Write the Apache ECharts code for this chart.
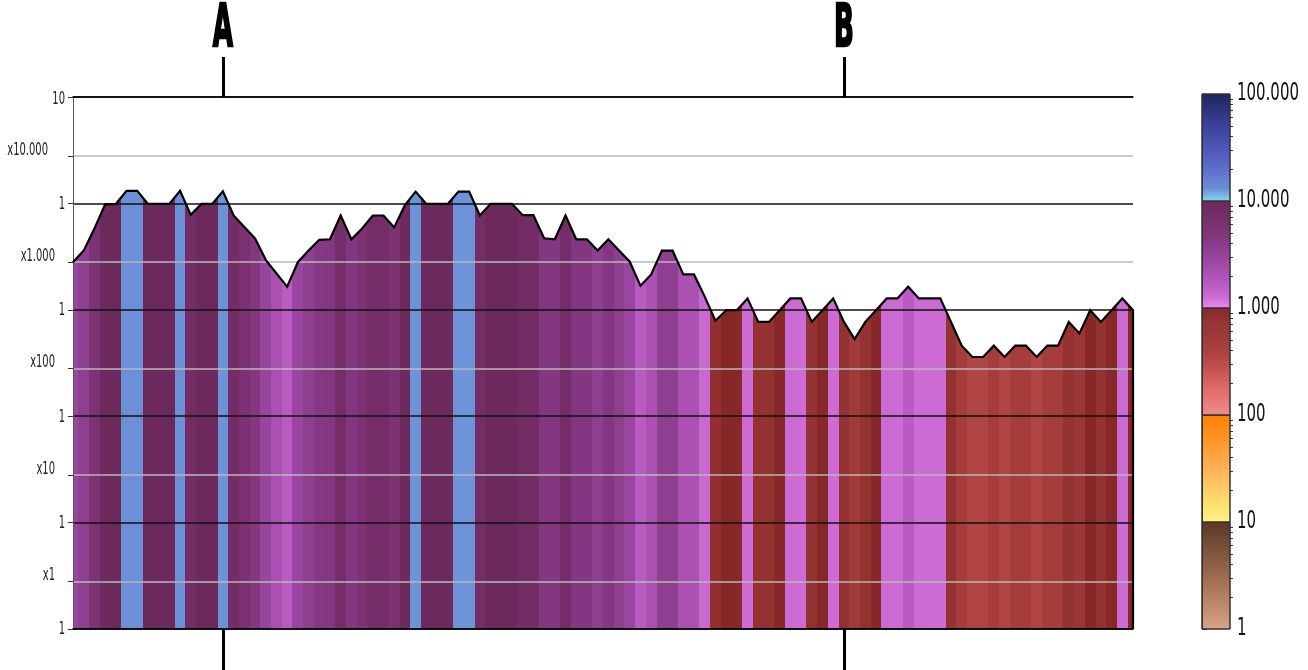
<!DOCTYPE html>
<html>
<head>
<meta charset="utf-8">
<script src="https://cdn.jsdelivr.net/npm/echarts@6/dist/echarts.min.js"></script>
<style>
  html, body { margin: 0; padding: 0; background: #ffffff; }
  #chart { width: 1308px; height: 670px; }
</style>
</head>
<body>
<div id="chart"></div>
<script>
// Measured value per position (log scale, 1 … 100.000)
const values = [
  2800, 3600, 5800, 9800, 9900, 13100, 13100, 9900, 9900, 9900,
  13100, 7800, 9900, 9900, 13000, 7700, 6000, 4700, 2950, 2200,
  1650, 2800, 3600, 4550, 4600, 7700, 4600, 5800, 7700, 7700,
  5950, 9650, 12900, 9900, 9900, 9900, 12900, 12900, 7700, 9900,
  9900, 9900, 7750, 7750, 4700, 4600, 7700, 4600, 4600, 3600,
  4600, 3600, 2830, 1680, 2150, 3600, 3600, 2150, 2150, 1330,
  790, 990, 990, 1280, 770, 770, 990, 1280, 1280, 770,
  990, 1280, 770, 530, 770, 990, 1280, 1280, 1650, 1280,
  1280, 1280, 770, 460, 360, 360, 460, 360, 460, 460,
  360, 460, 460, 770, 600, 990, 770, 990, 1280, 990
];

// Marked positions along the profile
const markerIndex = [14, 72];
const markerNames = ['A', 'B'];

// Left axis: decade labels (1, 10, … 100.000) and the band names between them
const decadeLabels = ['1', '1', '1', '1', '1', '10'];
const bandLabels = ['x1', 'x10', 'x100', 'x1.000', 'x10.000'];
const bandGuides = [2.8, 28, 280, 2800, 28000];

// Colour scale ticks
const scaleTicks = [1, 10, 100, 1000, 10000, 100000];
const scaleLabels = ['1', '10', '100', '1.000', '10.000', '100.000'];

// One gradient per decade, bottom (0) to top (1)
const palette = [
  [[0, '#d9a386'], [0.5, '#9c6a4e'], [1, '#583826']],
  [[0, '#fff47e'], [0.25, '#ffd46c'], [0.55, '#ffaa50'], [0.8, '#ff9222'], [1, '#ff8000']],
  [[0, '#f08c8c'], [0.25, '#e06a6a'], [0.45, '#c24e4e'], [0.6, '#aa4040'], [0.85, '#983434'], [1, '#862828']],
  [[0, '#ec8aec'], [0.1, '#cc6cd4'], [0.22, '#ba5bc4'], [0.45, '#9a46a0'], [0.65, '#843882'], [0.82, '#782f6c'], [1, '#6c2a5c']],
  [[0, '#80dcef'], [0.12, '#6b8ed6'], [0.4, '#5660c4'], [0.7, '#3c4299'], [1, '#1f2460']]
];

// Narrow lettering: condensed face, squeezed horizontally
const LABEL_FONT = "'DejaVu Sans Condensed', 'DejaVu Sans', sans-serif";

function hexRgb(h) {
  return [parseInt(h.slice(1, 3), 16), parseInt(h.slice(3, 5), 16), parseInt(h.slice(5, 7), 16)];
}
function mix(a, b, f) {
  const ca = hexRgb(a), cb = hexRgb(b);
  const c = ca.map((x, k) => Math.round(x + (cb[k] - x) * f));
  return 'rgb(' + c.join(',') + ')';
}
function colorFor(v) {
  const L = Math.log10(v);
  const d = Math.min(4, Math.max(0, Math.floor(L)));
  const t = L - d;
  const stops = palette[d];
  for (let k = 1; k < stops.length; k++) {
    if (t <= stops[k][0]) {
      const a = stops[k - 1], b = stops[k];
      return mix(a[1], b[1], (t - a[0]) / (b[0] - a[0]));
    }
  }
  return stops[stops.length - 1][1];
}

const n = values.length;
const points = values.map((v, i) => [i, v]);

// Hard-edged vertical stripes, one per position, coloured by its value
const stripeStops = [];
values.forEach((v, i) => {
  const c = colorFor(v);
  stripeStops.push({ offset: Math.max(0, (i - 0.5) / (n - 1)), color: c });
  stripeStops.push({ offset: Math.min(1, (i + 0.5) / (n - 1)), color: c });
});

// Outline closes down the right edge to the axis minimum
const outline = points.concat([[n - 1, scaleTicks[0]]]);

const minorTicks = [];
for (let d = 0; d < 5; d++) {
  for (let k = 2; k <= 9; k++) minorTicks.push(d + Math.log10(k));
}

const chart = echarts.init(document.getElementById('chart'), null, { renderer: 'canvas' });

const option = {
  animation: false,
  backgroundColor: '#ffffff',
  grid: [
    { left: 73, right: 175, top: 97, bottom: 41, outerBoundsMode: 'none', containLabel: false },
    { left: 1202, width: 28, top: 94, bottom: 41, outerBoundsMode: 'none', containLabel: false }
  ],
  xAxis: [
    {
      gridIndex: 0, type: 'value', min: 0, max: n - 1, position: 'bottom', z: 5,
      axisLine: { show: true, lineStyle: { color: '#000', width: 1.5 } },
      axisTick: { show: true, customValues: markerIndex, length: 41, lineStyle: { color: '#000', width: 3 } },
      axisLabel: { show: false },
      splitLine: { show: false }
    },
    {
      gridIndex: 0, type: 'value', min: 0, max: n - 1, position: 'top', z: 5,
      axisLine: { show: true, lineStyle: { color: '#000', width: 1.5 } },
      axisTick: { show: true, customValues: markerIndex, length: 40, lineStyle: { color: '#000', width: 3 } },
      axisLabel: { show: false },
      splitLine: { show: false }
    },
    { gridIndex: 1, type: 'value', min: 0, max: 1, show: false }
  ],
  yAxis: [
    {
      gridIndex: 0, type: 'log', logBase: 10, min: scaleTicks[0], max: scaleTicks[5], position: 'left', z: 4,
      axisLine: { show: true, lineStyle: { color: '#555', width: 1 } },
      axisTick: { show: true, length: 5, lineStyle: { color: '#333', width: 1 } },
      axisLabel: { show: false },
      splitLine: { show: true, lineStyle: { color: '#111', width: 1.5 } }
    },
    {
      gridIndex: 0, type: 'value', min: 0, max: 5, position: 'left', z: 4,
      axisLine: { show: false },
      axisTick: { show: true, customValues: bandGuides.map(g => Math.log10(g)), length: 5, lineStyle: { color: '#333', width: 1 } },
      axisLabel: { show: false },
      splitLine: { show: true, lineStyle: { color: '#b8b8b8', width: 1.5 } }
    },
    {
      gridIndex: 1, type: 'log', logBase: 10, min: scaleTicks[0], max: scaleTicks[5], position: 'right', z: 4,
      axisLine: { show: true, lineStyle: { color: '#333', width: 1 } },
      axisTick: { show: true, length: 5, lineStyle: { color: '#333', width: 1 } },
      axisLabel: { show: false },
      splitLine: { show: false }
    },
    {
      gridIndex: 1, type: 'value', min: 0, max: 5, position: 'right', z: 4,
      axisLine: { show: false },
      axisTick: { show: true, customValues: minorTicks, length: 3, lineStyle: { color: '#333', width: 1 } },
      axisLabel: { show: false },
      splitLine: { show: false }
    }
  ],
  series: [
    {
      name: 'profile', type: 'line', xAxisIndex: 0, yAxisIndex: 0, data: points,
      symbol: 'none', silent: true, z: 2,
      lineStyle: { width: 0 },
      areaStyle: { origin: 'start', opacity: 1, color: new echarts.graphic.LinearGradient(0, 0, 1, 0, stripeStops) }
    },
    {
      name: 'outline', type: 'line', xAxisIndex: 0, yAxisIndex: 0, data: outline,
      symbol: 'none', silent: true, z: 6,
      lineStyle: { color: '#000', width: 2.2, join: 'miter' }
    },
    {
      name: 'scale', type: 'custom', xAxisIndex: 2, yAxisIndex: 2, silent: true, z: 2,
      data: scaleTicks.slice(0, 5).map((lo, k) => [0, lo, scaleTicks[k + 1]]),
      encode: { x: 0, y: [1, 2] },
      renderItem: (params, api) => {
        const p0 = api.coord([0, api.value(1)]);
        const p1 = api.coord([1, api.value(2)]);
        const stops = palette[params.dataIndex].map(s => ({ offset: s[0], color: s[1] }));
        return {
          type: 'rect',
          shape: { x: p0[0], y: p1[1], width: p1[0] - p0[0], height: p0[1] - p1[1] },
          style: { fill: new echarts.graphic.LinearGradient(0, 1, 0, 0, stops), stroke: '#333', lineWidth: 1 }
        };
      }
    }
  ]
};

chart.setOption(option);

// Text placed through the axes' own scales
const px = (finder, v) => chart.convertToPixel(finder, v);
const plotLeft = px({ xAxisIndex: 0 }, 0);
const plotTop = px({ yAxisIndex: 0 }, scaleTicks[5]);
const barRight = px({ xAxisIndex: 2 }, 1);

function label(text, x, y, size, squeeze, align, color) {
  return {
    type: 'text', x: x, y: y, scaleX: squeeze, silent: true,
    style: { text: text, fontSize: size, fontFamily: LABEL_FONT, fill: color, align: align, verticalAlign: 'middle' }
  };
}

const texts = [];
decadeLabels.forEach((t, d) => {
  texts.push(label(t, plotLeft - 8, px({ yAxisIndex: 0 }, Math.pow(10, d)) + (d === 5 ? 3 : 1), 17, 0.65, 'right', '#222'));
});
bandLabels.forEach((t, d) => {
  texts.push(label(t, plotLeft - (d === 4 ? 25 : 18), px({ yAxisIndex: 1 }, d + 0.5), 17, 0.65, 'right', '#222'));
});
scaleLabels.forEach((t, d) => {
  texts.push(label(t, barRight + 7, px({ yAxisIndex: 2 }, scaleTicks[d]), 24.5, 0.68, 'left', '#111'));
});
markerIndex.forEach((idx, k) => {
  texts.push({
    type: 'text',
    x: px({ xAxisIndex: 0 }, idx),
    y: plotTop - 66,
    scaleX: 0.45,
    silent: true,
    style: {
      text: markerNames[k],
      fontSize: 58, fontWeight: 'bold', fontFamily: "'DejaVu Sans', sans-serif",
      fill: '#000', stroke: '#000', lineWidth: 2.5,
      align: 'center', verticalAlign: 'middle'
    }
  });
});

chart.setOption({ graphic: texts });
</script>
</body>
</html>
